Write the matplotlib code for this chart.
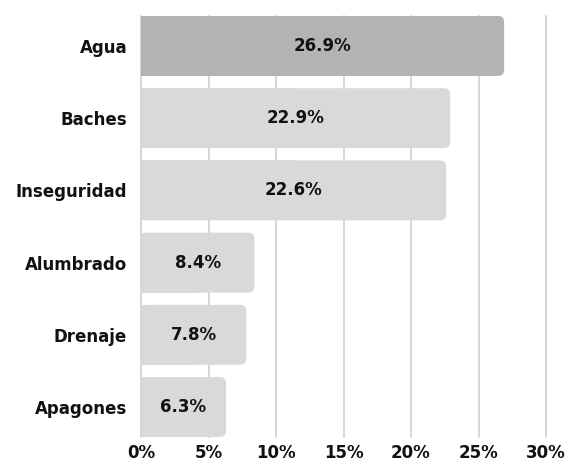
import matplotlib
matplotlib.use("Agg")
import matplotlib.pyplot as plt
from matplotlib.patches import FancyBboxPatch, Rectangle

categories = ["Agua", "Baches", "Inseguridad", "Alumbrado", "Drenaje", "Apagones"]
values = [26.9, 22.9, 22.6, 8.4, 7.8, 6.3]
value_labels = ["26.9%", "22.9%", "22.6%", "8.4%", "7.8%", "6.3%"]
xticks = [0, 5, 10, 15, 20, 25, 30]
xtick_labels = ["0%", "5%", "10%", "15%", "20%", "25%", "30%"]

W, H = 567, 461
fig = plt.figure(figsize=(W / 100, H / 100), dpi=100)
L, R, T, B = 141, 546, 16, 437
ax = fig.add_axes([L / W, 1 - B / H, (R - L) / W, (B - T) / H])

bar_h = 0.83
ax.set_xlim(0, 30)
ax.set_ylim(len(categories) - 1 + bar_h / 2, -bar_h / 2)

px_per_x = (R - L) / 30
px_per_y = (B - T) / (len(categories) - 1 + bar_h)
r_px = 6
r_x = r_px / px_per_x
aspect = px_per_x / px_per_y

fs = 12
for t in xticks:
    ax.axvline(t, color="#cccccc", linewidth=1.1, zorder=1, clip_on=False)

colors = ["#b3b3b3"] + ["#d9d9d9"] * 5
for i, (v, c) in enumerate(zip(values, colors)):
    y0 = i - bar_h / 2
    p = FancyBboxPatch((0, y0), v, bar_h,
                       boxstyle=f"round,pad=0,rounding_size={r_x}",
                       mutation_aspect=aspect, fc=c, ec="none", zorder=3)
    ax.add_patch(p)
    ax.add_patch(Rectangle((0, y0), v / 2, bar_h, fc=c, ec="none", zorder=3))
    ax.text(v / 2, i, value_labels[i], ha="center", va="center",
            fontsize=fs, fontweight="bold", color="#111111", zorder=4)

ax.set_yticks(range(len(categories)))
ax.set_yticklabels(categories, fontsize=fs, fontweight="bold", color="#111111")
ax.set_xticks(xticks)
ax.set_xticklabels(xtick_labels, fontsize=fs, fontweight="bold", color="#111111")
ax.tick_params(axis="both", length=0)
ax.tick_params(axis="y", pad=10)
ax.tick_params(axis="x", pad=5)
ax.grid(False)
for s in ax.spines.values():
    s.set_visible(False)

fig.savefig("out.png", dpi=100)
